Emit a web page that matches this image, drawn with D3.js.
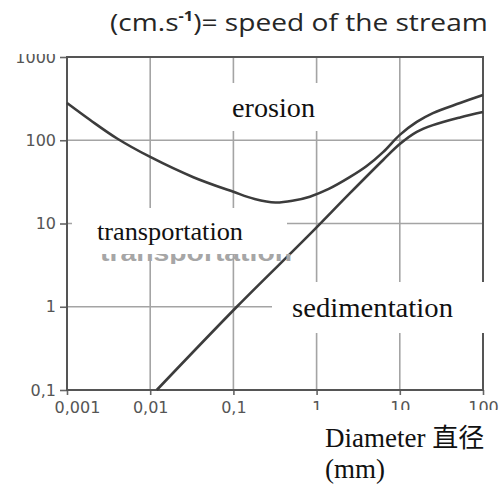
<!DOCTYPE html>
<html>
<head>
<meta charset="utf-8">
<script src="https://cdn.jsdelivr.net/npm/d3@7"></script>
<style>
  body { margin: 0; background: #fff; }
</style>
</head>
<body>
<svg id="chart"></svg>
<script>
const xTicks = [0.001, 0.01, 0.1, 1, 10, 100];
const xTickLabels = ['0,001', '0,01', '0,1', '1', '10', '100'];
const yTicks = [0.1, 1, 10, 100, 1000];
const yTickLabels = ['0,1', '1', '10', '100', '1000'];

// upper curve (erosion threshold), diameter in mm / speed in cm/s
const erosionDiameter = [0.001, 0.0019, 0.004, 0.01, 0.033, 0.1, 0.18, 0.32, 0.53, 0.83, 1.4, 2.5, 4, 6.3, 10, 16, 25, 53, 100];
const erosionSpeed = [280, 175, 105, 63, 36, 24, 19.7, 17.9, 18.9, 21, 26, 36, 49, 72, 116, 166, 212, 280, 350];

// lower curve (sedimentation threshold)
const settlingDiameter = [0.012, 0.11, 0.77, 2.5, 6.3, 10, 16, 25, 53, 100];
const settlingSpeed = [0.1, 1, 6.9, 23, 58, 90, 126, 152, 188, 218];

const width = 500;
const height = 487;
const plot = { left: 67, right: 483, top: 57, bottom: 390 };

const svg = d3.select('#chart')
  .attr('width', width)
  .attr('height', height)
  .style('background', '#fff');

const x = d3.scaleLog().domain([0.001, 100]).range([plot.left, plot.right]);
const y = d3.scaleLog().domain([0.1, 1000]).range([plot.bottom, plot.top]);

// grid
svg.append('g')
  .selectAll('line')
  .data(xTicks)
  .enter()
  .append('line')
  .attr('x1', d => x(d)).attr('x2', d => x(d))
  .attr('y1', plot.top).attr('y2', plot.bottom)
  .attr('stroke', '#a4a4a4')
  .attr('stroke-width', 1.6);

svg.append('g')
  .selectAll('line')
  .data(yTicks)
  .enter()
  .append('line')
  .attr('x1', plot.left).attr('x2', plot.right)
  .attr('y1', d => y(d)).attr('y2', d => y(d))
  .attr('stroke', '#a4a4a4')
  .attr('stroke-width', 1.6);

// axes
const yAxis = svg.append('g')
  .attr('transform', `translate(${plot.left},0)`)
  .call(d3.axisLeft(y).tickValues(yTicks).tickFormat((d, i) => yTickLabels[i]).tickSize(7).tickPadding(4));

const xAxis = svg.append('g')
  .attr('transform', `translate(0,${plot.bottom})`)
  .call(d3.axisBottom(x).tickValues(xTicks).tickFormat((d, i) => xTickLabels[i]).tickSize(5).tickPadding(7));

[yAxis, xAxis].forEach(g => {
  g.select('.domain').remove();
  g.selectAll('.tick line').attr('stroke', '#666').attr('stroke-width', 1.6);
  g.selectAll('.tick text')
    .attr('fill', '#555')
    .style('font-family', '"DejaVu Sans", sans-serif')
    .style('font-size', '16px');
});
// first x label sits to the right of its tick
xAxis.selectAll('.tick text').filter((d, i) => i === 0).attr('dx', 10);

// frame
svg.append('rect')
  .attr('x', plot.left).attr('y', plot.top)
  .attr('width', plot.right - plot.left)
  .attr('height', plot.bottom - plot.top)
  .attr('fill', 'none')
  .attr('stroke', '#555')
  .attr('stroke-width', 2);

// curves
const line = d3.line()
  .x(d => x(d[0]))
  .y(d => y(d[1]))
  .curve(d3.curveCatmullRom.alpha(0.5));

svg.append('path')
  .datum(d3.zip(erosionDiameter, erosionSpeed))
  .attr('d', line)
  .attr('fill', 'none')
  .attr('stroke', '#3c3c3c')
  .attr('stroke-width', 2.6);

svg.append('path')
  .datum(d3.zip(settlingDiameter, settlingSpeed))
  .attr('d', line)
  .attr('fill', 'none')
  .attr('stroke', '#3c3c3c')
  .attr('stroke-width', 2.6);

// old label peeking out under the transportation box: only its lower strip shows
svg.append('defs')
  .append('clipPath')
  .attr('id', 'ghost-clip')
  .append('rect')
  .attr('x', 90).attr('y', 254)
  .attr('width', 210).attr('height', 10);

svg.append('text')
  .attr('x', 100).attr('y', 261)
  .attr('clip-path', 'url(#ghost-clip)')
  .attr('textLength', 192)
  .attr('lengthAdjust', 'spacingAndGlyphs')
  .attr('fill', '#a6a6a6')
  .style('font-family', '"Liberation Sans", sans-serif')
  .style('font-weight', 'bold')
  .style('font-size', '23px')
  .text('transportation');

// white label boxes
const serif = '"Liberation Serif", serif';
const boxes = [
  { x: 212, y: 83, w: 106, h: 48, tx: 232, ty: 117, text: 'erosion', size: 27, len: 83 },
  { x: 72, y: 208, w: 215, h: 46, tx: 97, ty: 240, text: 'transportation', size: 25, len: 146 },
  { x: 272, y: 282, w: 216, h: 51, tx: 292, ty: 317, text: 'sedimentation', size: 27, len: 161 }
];

boxes.forEach(b => {
  svg.append('rect')
    .attr('x', b.x).attr('y', b.y)
    .attr('width', b.w).attr('height', b.h)
    .attr('fill', '#fff');
  svg.append('text')
    .attr('x', b.tx).attr('y', b.ty)
    .attr('textLength', b.len)
    .attr('lengthAdjust', 'spacingAndGlyphs')
    .attr('fill', '#111')
    .style('font-family', serif)
    .style('font-size', b.size + 'px')
    .text(b.text);
});

// axis title box, bottom right
svg.append('rect')
  .attr('x', 303).attr('y', 410)
  .attr('width', 197).attr('height', 77)
  .attr('fill', '#fff');

const xTitle = svg.append('text')
  .attr('x', 325).attr('y', 447)
  .attr('fill', '#111')
  .style('font-family', serif)
  .style('font-size', '27px');
xTitle.append('tspan').text('Diameter ');
xTitle.append('tspan')
  .style('font-family', '"Noto Sans CJK SC", sans-serif')
  .style('font-size', '26px')
  .text('直径');

svg.append('text')
  .attr('x', 325).attr('y', 478)
  .attr('fill', '#111')
  .style('font-family', serif)
  .style('font-size', '27px')
  .text('(mm)');

// top band covering the upper part of "1000"
svg.append('rect')
  .attr('x', 0).attr('y', 0)
  .attr('width', width).attr('height', 54)
  .attr('fill', '#fff');

const yTitle = svg.append('text')
  .attr('fill', '#262626')
  .style('font-family', '"Open Sans", sans-serif')
  .style('font-size', '24px');
yTitle.append('tspan').text('(cm.s');
yTitle.append('tspan')
  .attr('dy', -10)
  .style('font-size', '14px')
  .style('font-weight', 'bold')
  .text('-1');
yTitle.append('tspan')
  .attr('dy', 10)
  .text(')= speed of the stream');

// stretch the title to its width in the picture
const titleW = yTitle.node().getComputedTextLength();
yTitle.attr('transform', `translate(110,31) scale(${378 / titleW},1)`);
</script>
</body>
</html>
